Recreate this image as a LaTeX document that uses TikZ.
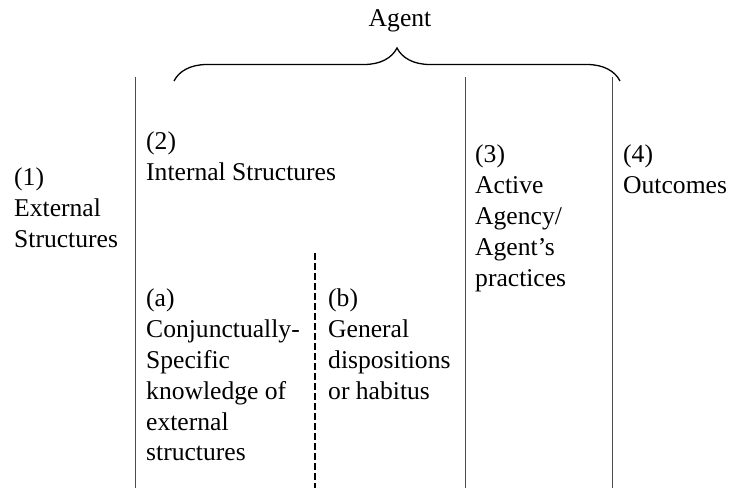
\documentclass[tikz,border=0pt]{standalone}
\usepackage{fontspec}
\setmainfont{Liberation Serif}
\usetikzlibrary{decorations.pathreplacing,positioning}

\tikzset{
  lbl/.style={anchor=north west,inner sep=0pt,align=left,
    font=\fontsize{25.6}{30.8}\selectfont},
  sep/.style={line width=0.9pt,black!70},
}

\begin{document}
\begin{tikzpicture}[x=1pt,y=-1pt]
\useasboundingbox (0,0) rectangle (729,488);
\coordinate (l1) at (135,77);
\coordinate (l2) at (465,77);
\coordinate (l3) at (612,77);

\foreach \x in {1,2,3} \draw[sep] (l\x) -- ++(0,411);
\draw[line width=1.6pt,dash pattern=on 7pt off 3pt] (315,253) -- (315,488);
\draw[line width=1.3pt,decorate,
  decoration={brace,amplitude=33pt}] (174,81) -- (620,81);

\node[lbl,anchor=north] (agent) at (400,9) {Agent};
\node[lbl] (ext) at (14,168) {(1)\\External\\Structures};
\node[lbl] (int) at (146,132) {(2)\\Internal Structures};
\node[lbl] (act) at (475,145) {(3)\\Active\\Agency/\\Agent’s\\practices};
\node[lbl] (out) at (623,145) {(4)\\Outcomes};
\node[lbl] (spec) at (146,289) {(a)\\Conjunctually-\\Specific\\knowledge of\\external\\structures};
\node[lbl] (gen) at (328,289) {(b)\\General\\dispositions\\or habitus};
\end{tikzpicture}
\end{document}
